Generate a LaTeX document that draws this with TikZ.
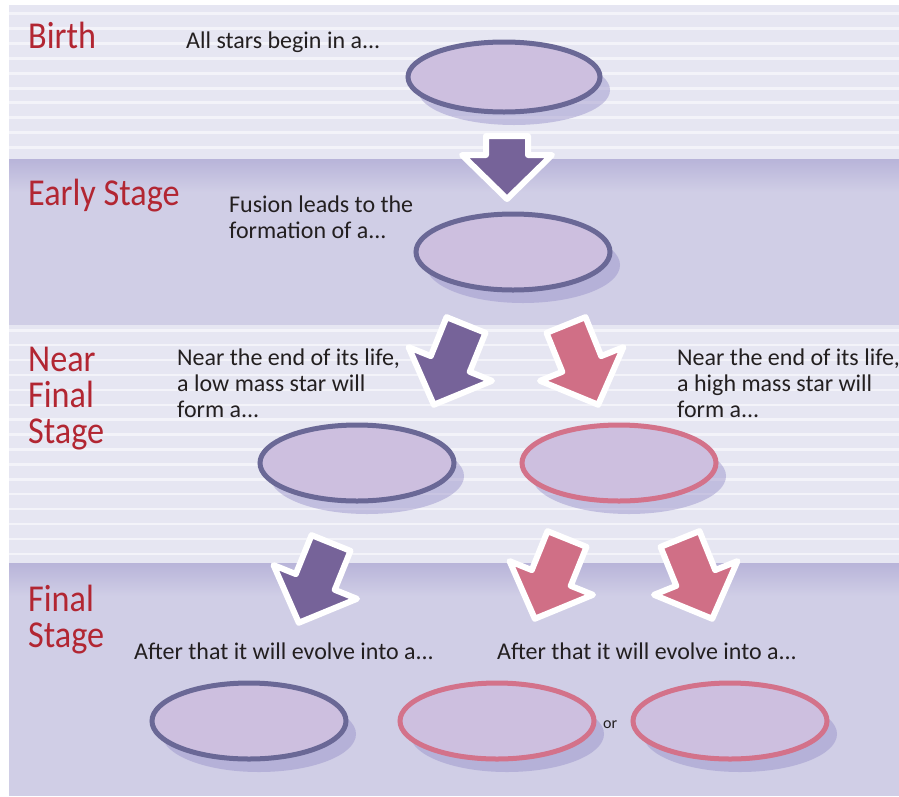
\documentclass[tikz,border=0pt]{standalone}
\usepackage{fontspec}
\setmainfont{Carlito}
\newfontfamily\stagefont[FakeStretch=0.9]{Carlito}
\usetikzlibrary{shapes.geometric,shadows}

\definecolor{bandtop}{RGB}{184,180,217}
\definecolor{bandbg}{RGB}{208,206,230}
\definecolor{stripebg}{RGB}{230,230,242}
\definecolor{stripeln}{RGB}{243,243,249}
\definecolor{stagered}{RGB}{178,38,50}
\definecolor{textgray}{RGB}{35,31,32}
\definecolor{lowline}{RGB}{106,104,150}
\definecolor{highline}{RGB}{211,114,138}
\definecolor{starfill}{RGB}{205,191,223}
\definecolor{lowarrow}{RGB}{118,99,153}
\definecolor{higharrow}{RGB}{208,111,134}
\definecolor{shadowc}{RGB}{150,143,200}

% block arrow, tail at the origin, pointing down: {colour}{shaft length}
\tikzset{
  pics/stagearrow/.style n args={2}{code={
    \filldraw[white, line width=6pt, line join=round, fill=#1]
      (-21,0) -- (21,0) -- (21,#2) -- (45,#2) -- (0,{#2+44})
      -- (-45,#2) -- (-21,#2) -- cycle;
  }},
}

\begin{document}
\begin{tikzpicture}[x=1pt, y=-1pt,
  stagename/.style={anchor=base west, inner sep=0pt, text=stagered, font=\stagefont\fontsize{38}{36}\selectfont, align=left},
  prompt/.style={anchor=base west, inner sep=0pt, text=textgray, font=\fontsize{24}{26}\selectfont, align=left},
  star/.style={ellipse, line width=5pt, fill=starfill, inner sep=0pt, minimum width=194pt, minimum height=76pt,
    drop shadow={shadow xshift=10pt, shadow yshift=-13pt, fill=shadowc, opacity=0.45}},
  low/.style={star, draw=lowline},
  high/.style={star, draw=highline}]
\useasboundingbox (0,0) rectangle (899,796);

% striped bands
\fill[stripebg] (9,5) rectangle (899,159);
\foreach \k in {0,...,9}
  \fill[stripeln] (9,{12+14.9*\k}) rectangle (899,{15+14.9*\k});
\fill[stripebg] (9,325) rectangle (899,563);
\foreach \k in {0,...,15}
  \fill[stripeln] (9,{329+14.9*\k}) rectangle (899,{331.5+14.9*\k});

% shaded bands
\fill[bandbg] (9,159) rectangle (899,325);
\shade[top color=bandtop, bottom color=bandbg] (9,159) rectangle (899,192);
\fill[bandbg] (9,563) rectangle (899,796);
\shade[top color=bandtop, bottom color=bandbg] (9,563) rectangle (899,596);

% stage names (base = last line)
\node[stagename] (birthlbl) at (28,48) {Birth};
\node[stagename] (earlylbl) at (28,205) {Early Stage};
\node[stagename] (nearlbl) at (28,443) {Near\\Final\\Stage};
\node[stagename] (finallbl) at (28,647) {Final\\Stage};

% prompts
\node[prompt] (birthtxt) at (186,48) {All stars begin in a...};
\node[prompt] (earlytxt) at (229,238) {Fusion leads to the\\formation of a...};
\node[prompt] (lowtxt) at (177,417) {Near the end of its life,\\a low mass star will\\form a...};
\node[prompt] (hightxt) at (677,417) {Near the end of its life,\\a high mass star will\\form a...};
\node[prompt] (lowafter) at (134,659) {After that it will evolve into a...};
\node[prompt] (highafter) at (497,659) {After that it will evolve into a...};

% blank ovals
\node[low, minimum width=192pt, minimum height=70pt] (birth) at (504,77) {};
\node[low] (early) at (513,252) {};
\node[low] (lowend) at (357,463) {};
\node[high] (highend) at (619,463) {};
\node[low] (lowfinal) at (249,721) {};
\node[high] (highfinal) at (497,721) {};
\node[high] (highfinalb) at (730,721) {};
\node[anchor=base west, inner sep=0pt, text=textgray, font=\fontsize{16}{16}\selectfont] (ortxt) at (603,728) {or};

% arrows
\pic at (507,136) {stagearrow={lowarrow}{19}};
\pic[rotate=-22] at (466,325) {stagearrow={lowarrow}{42}};
\pic[rotate=22] at (566,325) {stagearrow={higharrow}{42}};
\pic[rotate=-22] at (331,543) {stagearrow={lowarrow}{42}};
\pic[rotate=-22] at (567,539) {stagearrow={higharrow}{42}};
\pic[rotate=22] at (680,539) {stagearrow={higharrow}{42}};
\end{tikzpicture}
\end{document}
